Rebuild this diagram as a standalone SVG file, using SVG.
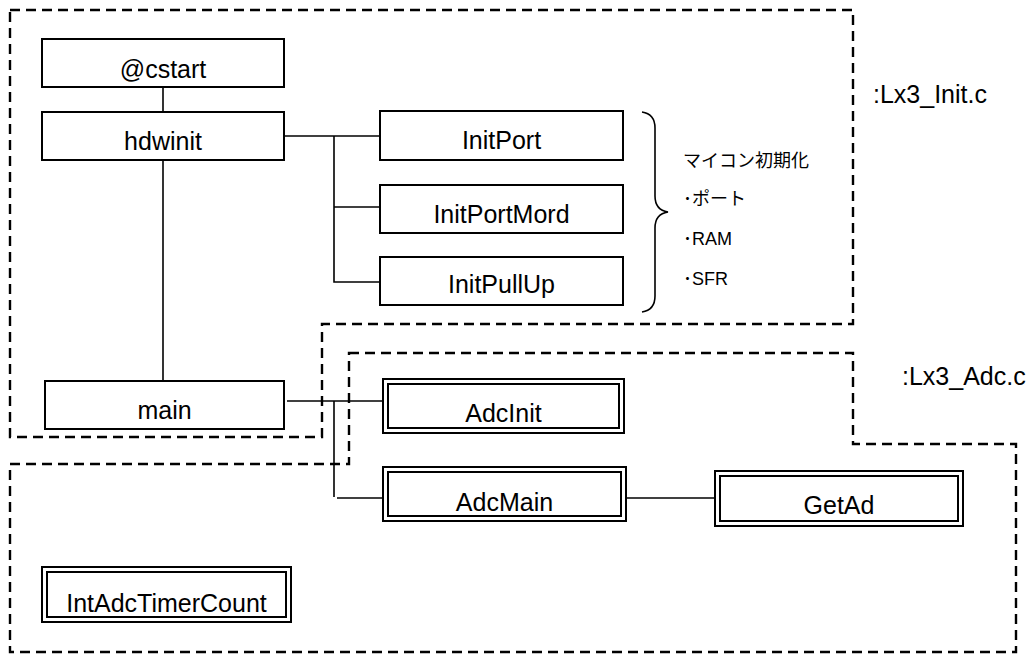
<svg xmlns="http://www.w3.org/2000/svg" width="1032" height="657" viewBox="0 0 1032 657">
<style>
.region{fill:none;stroke:#000;stroke-width:2.4;stroke-dasharray:10 6;}
.box{fill:#fff;stroke:#000;stroke-width:2;}
.dbl{fill:none;stroke:#000;stroke-width:2;}
.lbl{font-family:"Liberation Sans","Noto Sans CJK JP",sans-serif;font-size:25px;fill:#000;text-anchor:middle;}
.file{font-family:"Liberation Sans","Noto Sans CJK JP",sans-serif;font-size:25px;fill:#000;}
.note{font-family:"Liberation Sans","Noto Sans CJK JP",sans-serif;font-size:18px;fill:#000;}
.con{fill:none;stroke:#000;stroke-width:1.6;}
</style>
<rect width="1032" height="657" fill="#fff"/>
<g id="regions">
<path class="region" d="M10,10 H853 V324 H322 V437 H10 Z"/>
<path class="region" d="M349,353 H853 V444 H1016 V652 H10 V464 H349 Z"/>
</g>
<g id="connectors">
<path class="con" d="M163,87 V112"/>
<path class="con" d="M163,160 V381"/>
<path class="con" d="M284,136 H380"/>
<path class="con" d="M334,136 V282 H380"/>
<path class="con" d="M334,207 H380"/>
<path class="con" d="M287,401 H383"/>
<path class="con" d="M334,401 V497"/>
<path class="con" d="M337,498 H383"/>
<path class="con" d="M626,498 H715"/>
<path class="con" d="M642,112 Q655,114 655,128 V196 Q655,210 668,212 Q655,214 655,228 V296 Q655,310 642,312"/>
</g>
<g id="cstart"><rect class="box" x="42" y="39" width="242" height="48"/><text class="lbl" x="163" y="78">@cstart</text></g>
<g id="hdwinit"><rect class="box" x="42" y="112" width="242" height="48"/><text class="lbl" x="163" y="150">hdwinit</text></g>
<g id="InitPort"><rect class="box" x="380" y="111" width="243" height="49"/><text class="lbl" x="501.5" y="149">InitPort</text></g>
<g id="InitPortMord"><rect class="box" x="380" y="185" width="243" height="48"/><text class="lbl" x="501.5" y="223">InitPortMord</text></g>
<g id="InitPullUp"><rect class="box" x="380" y="257" width="243" height="48"/><text class="lbl" x="501.5" y="293">InitPullUp</text></g>
<g id="main"><rect class="box" x="45" y="381" width="239" height="48"/><text class="lbl" x="164.5" y="419">main</text></g>
<g id="AdcInit"><rect class="box" x="383" y="379" width="241" height="54"/><rect class="dbl" x="388" y="384" width="231" height="44"/><text class="lbl" x="503.5" y="422">AdcInit</text></g>
<g id="AdcMain"><rect class="box" x="383" y="467" width="243" height="54"/><rect class="dbl" x="388" y="472" width="233" height="44"/><text class="lbl" x="504.5" y="511">AdcMain</text></g>
<g id="GetAd"><rect class="box" x="715" y="471" width="248" height="55"/><rect class="dbl" x="720" y="476" width="238" height="45"/><text class="lbl" x="839" y="514">GetAd</text></g>
<g id="IntAdcTimerCount"><rect class="box" x="42" y="567" width="249" height="55"/><rect class="dbl" x="47" y="572" width="239" height="45"/><text class="lbl" x="166.5" y="612">IntAdcTimerCount</text></g>
<g id="notes">
<text class="note" x="683" y="167">マイコン初期化</text>
<text class="note" x="683" y="205">･ポート</text>
<text class="note" x="683" y="245">･RAM</text>
<text class="note" x="683" y="285">･SFR</text>
</g>
<g id="files">
<text class="file" x="873" y="103">:Lx3_Init.c</text>
<text class="file" x="902" y="385">:Lx3_Adc.c</text>
</g>
</svg>
